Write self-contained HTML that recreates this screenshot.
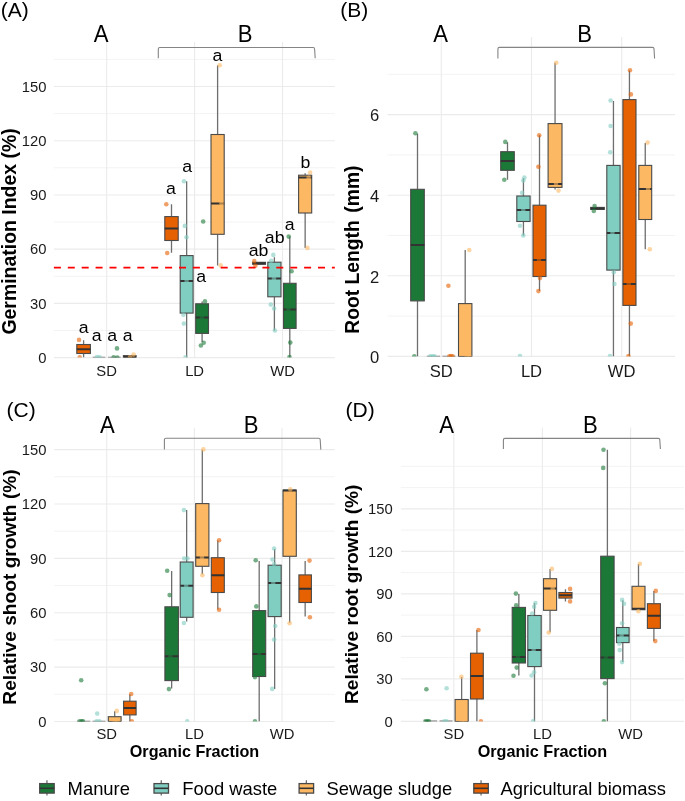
<!DOCTYPE html>
<html><head><meta charset="utf-8"><title>Figure</title>
<style>
html,body{margin:0;padding:0;background:#fff;}
body{width:685px;height:801px;overflow:hidden;}
svg{display:block;font-family:"Liberation Sans", sans-serif;will-change:transform;}
</style></head>
<body>
<svg width="685" height="801" viewBox="0 0 685 801">
<rect width="685" height="801" fill="#fff"/>
<clipPath id="clipA"><rect x="53.9" y="12" width="280.9" height="345.6"/></clipPath>
<line x1="53.9" x2="334.8" y1="330.49" y2="330.49" stroke="#f3f3f3" stroke-width="1"/>
<line x1="53.9" x2="334.8" y1="276.26" y2="276.26" stroke="#f3f3f3" stroke-width="1"/>
<line x1="53.9" x2="334.8" y1="222.04" y2="222.04" stroke="#f3f3f3" stroke-width="1"/>
<line x1="53.9" x2="334.8" y1="167.81" y2="167.81" stroke="#f3f3f3" stroke-width="1"/>
<line x1="53.9" x2="334.8" y1="113.59" y2="113.59" stroke="#f3f3f3" stroke-width="1"/>
<line x1="53.9" x2="334.8" y1="59.36" y2="59.36" stroke="#f3f3f3" stroke-width="1"/>
<line x1="53.9" x2="334.8" y1="357.6" y2="357.6" stroke="#ebebeb" stroke-width="1.1"/>
<line x1="53.9" x2="334.8" y1="303.38" y2="303.38" stroke="#ebebeb" stroke-width="1.1"/>
<line x1="53.9" x2="334.8" y1="249.15" y2="249.15" stroke="#ebebeb" stroke-width="1.1"/>
<line x1="53.9" x2="334.8" y1="194.93" y2="194.93" stroke="#ebebeb" stroke-width="1.1"/>
<line x1="53.9" x2="334.8" y1="140.7" y2="140.7" stroke="#ebebeb" stroke-width="1.1"/>
<line x1="53.9" x2="334.8" y1="86.48" y2="86.48" stroke="#ebebeb" stroke-width="1.1"/>
<line x1="106.65" x2="106.65" y1="42" y2="357.6" stroke="#ebebeb" stroke-width="1.1"/>
<line x1="194.6" x2="194.6" y1="42" y2="357.6" stroke="#ebebeb" stroke-width="1.1"/>
<line x1="282.5" x2="282.5" y1="42" y2="357.6" stroke="#ebebeb" stroke-width="1.1"/>
<g clip-path="url(#clipA)"><line x1="83.6" x2="83.6" y1="340.2" y2="344.5" stroke="#6e6e6e" stroke-width="1.3"/><line x1="83.6" x2="83.6" y1="353.5" y2="357.6" stroke="#6e6e6e" stroke-width="1.3"/><rect x="76.8" y="344.5" width="13.6" height="9" fill="#E66101" stroke="#4a4a4a" stroke-width="1.1"/><line x1="76.8" x2="90.4" y1="349.2" y2="349.2" stroke="#333" stroke-width="2"/><circle cx="79" cy="339.9" r="2.3" fill="#E66101" fill-opacity="0.6"/><circle cx="79.7" cy="357.4" r="2.3" fill="#E66101" fill-opacity="0.6"/></g>
<g clip-path="url(#clipA)"><line x1="92.7" x2="105.3" y1="357.4" y2="357.4" stroke="#737373" stroke-width="1.3"/><circle cx="97" cy="357" r="2.3" fill="#80CDC1" fill-opacity="0.6"/><circle cx="99.6" cy="357.4" r="2.3" fill="#80CDC1" fill-opacity="0.6"/></g>
<g clip-path="url(#clipA)"><line x1="108.1" x2="120.7" y1="357.4" y2="357.4" stroke="#737373" stroke-width="1.3"/><circle cx="117" cy="348.4" r="2.3" fill="#1B7837" fill-opacity="0.6"/><circle cx="113.6" cy="357.4" r="2.3" fill="#1B7837" fill-opacity="0.6"/><circle cx="117.2" cy="357.5" r="2.3" fill="#1B7837" fill-opacity="0.6"/></g>
<g clip-path="url(#clipA)"><rect x="123.4" y="355.6" width="12.7" height="2" fill="#FDB863" stroke="#4a4a4a" stroke-width="1.1"/><line x1="123.4" x2="136.1" y1="357.1" y2="357.1" stroke="#333" stroke-width="2"/><circle cx="133.6" cy="354.6" r="2.3" fill="#FDB863" fill-opacity="0.6"/><circle cx="130" cy="357.2" r="2.3" fill="#FDB863" fill-opacity="0.6"/></g>
<g clip-path="url(#clipA)"><line x1="171.5" x2="171.5" y1="204.3" y2="216.6" stroke="#6e6e6e" stroke-width="1.3"/><line x1="171.5" x2="171.5" y1="240.5" y2="252.7" stroke="#6e6e6e" stroke-width="1.3"/><rect x="164.8" y="216.6" width="13.4" height="23.9" fill="#E66101" stroke="#4a4a4a" stroke-width="1.1"/><line x1="164.8" x2="178.2" y1="228.5" y2="228.5" stroke="#333" stroke-width="2"/><circle cx="166.3" cy="204.3" r="2.3" fill="#E66101" fill-opacity="0.6"/><circle cx="167.2" cy="253" r="2.3" fill="#E66101" fill-opacity="0.6"/></g>
<g clip-path="url(#clipA)"><line x1="186.65" x2="186.65" y1="181.3" y2="255.6" stroke="#6e6e6e" stroke-width="1.3"/><line x1="186.65" x2="186.65" y1="313.1" y2="357.6" stroke="#6e6e6e" stroke-width="1.3"/><rect x="180.2" y="255.6" width="12.9" height="57.5" fill="#80CDC1" stroke="#4a4a4a" stroke-width="1.1"/><line x1="180.2" x2="193.1" y1="281.1" y2="281.1" stroke="#333" stroke-width="2"/><circle cx="184" cy="181.3" r="2.3" fill="#80CDC1" fill-opacity="0.6"/><circle cx="184.8" cy="225.9" r="2.3" fill="#80CDC1" fill-opacity="0.6"/><circle cx="186.5" cy="237.2" r="2.3" fill="#80CDC1" fill-opacity="0.6"/><circle cx="183.4" cy="314.7" r="2.3" fill="#80CDC1" fill-opacity="0.6"/><circle cx="183.9" cy="323.6" r="2.3" fill="#80CDC1" fill-opacity="0.6"/><circle cx="185.5" cy="357.4" r="2.3" fill="#80CDC1" fill-opacity="0.6"/></g>
<g clip-path="url(#clipA)"><line x1="202.1" x2="202.1" y1="301.6" y2="303.8" stroke="#6e6e6e" stroke-width="1.3"/><line x1="202.1" x2="202.1" y1="333.4" y2="342" stroke="#6e6e6e" stroke-width="1.3"/><rect x="195.7" y="303.8" width="12.8" height="29.6" fill="#1B7837" stroke="#4a4a4a" stroke-width="1.1"/><line x1="195.7" x2="208.5" y1="317.6" y2="317.6" stroke="#333" stroke-width="2"/><circle cx="205" cy="301.4" r="2.3" fill="#1B7837" fill-opacity="0.6"/><circle cx="203.7" cy="342.8" r="2.3" fill="#1B7837" fill-opacity="0.6"/><circle cx="200.9" cy="345.5" r="2.3" fill="#1B7837" fill-opacity="0.6"/><circle cx="203.2" cy="221.5" r="2.3" fill="#1B7837" fill-opacity="0.6"/></g>
<g clip-path="url(#clipA)"><line x1="217.6" x2="217.6" y1="65.3" y2="134.5" stroke="#6e6e6e" stroke-width="1.3"/><line x1="217.6" x2="217.6" y1="234.3" y2="265.4" stroke="#6e6e6e" stroke-width="1.3"/><rect x="211" y="134.5" width="13.2" height="99.8" fill="#FDB863" stroke="#4a4a4a" stroke-width="1.1"/><line x1="211" x2="224.2" y1="203.5" y2="203.5" stroke="#333" stroke-width="2"/><circle cx="219.7" cy="65.3" r="2.3" fill="#FDB863" fill-opacity="0.6"/><circle cx="220.7" cy="265.4" r="2.3" fill="#FDB863" fill-opacity="0.6"/><circle cx="221.5" cy="203.5" r="2.3" fill="#FDB863" fill-opacity="0.6"/></g>
<g clip-path="url(#clipA)"><rect x="252.7" y="262.3" width="12.8" height="2" fill="#E66101" stroke="#4a4a4a" stroke-width="1.1"/><line x1="252.7" x2="265.5" y1="263.3" y2="263.3" stroke="#333" stroke-width="2"/><circle cx="254.3" cy="261.1" r="2.3" fill="#E66101" fill-opacity="0.6"/><circle cx="255.4" cy="265.8" r="2.3" fill="#E66101" fill-opacity="0.6"/></g>
<g clip-path="url(#clipA)"><line x1="274.4" x2="274.4" y1="257.2" y2="262.2" stroke="#6e6e6e" stroke-width="1.3"/><line x1="274.4" x2="274.4" y1="296.8" y2="330.5" stroke="#6e6e6e" stroke-width="1.3"/><rect x="267.8" y="262.2" width="13.2" height="34.6" fill="#80CDC1" stroke="#4a4a4a" stroke-width="1.1"/><line x1="267.8" x2="281" y1="278.6" y2="278.6" stroke="#333" stroke-width="2"/><circle cx="273.3" cy="254.9" r="2.3" fill="#80CDC1" fill-opacity="0.6"/><circle cx="271.2" cy="260.8" r="2.3" fill="#80CDC1" fill-opacity="0.6"/><circle cx="270.8" cy="304.6" r="2.3" fill="#80CDC1" fill-opacity="0.6"/><circle cx="274.1" cy="308.5" r="2.3" fill="#80CDC1" fill-opacity="0.6"/><circle cx="274.9" cy="330.5" r="2.3" fill="#80CDC1" fill-opacity="0.6"/></g>
<g clip-path="url(#clipA)"><line x1="289.8" x2="289.8" y1="236.6" y2="283.3" stroke="#6e6e6e" stroke-width="1.3"/><line x1="289.8" x2="289.8" y1="328.4" y2="357.6" stroke="#6e6e6e" stroke-width="1.3"/><rect x="283.5" y="283.3" width="12.6" height="45.1" fill="#1B7837" stroke="#4a4a4a" stroke-width="1.1"/><line x1="283.5" x2="296.1" y1="309.5" y2="309.5" stroke="#333" stroke-width="2"/><circle cx="288.7" cy="236.6" r="2.3" fill="#1B7837" fill-opacity="0.6"/><circle cx="291.6" cy="271.2" r="2.3" fill="#1B7837" fill-opacity="0.6"/><circle cx="290.3" cy="342.6" r="2.3" fill="#1B7837" fill-opacity="0.6"/><circle cx="289.5" cy="357" r="2.3" fill="#1B7837" fill-opacity="0.6"/></g>
<g clip-path="url(#clipA)"><line x1="305.15" x2="305.15" y1="173.3" y2="175.2" stroke="#6e6e6e" stroke-width="1.3"/><line x1="305.15" x2="305.15" y1="213" y2="247.9" stroke="#6e6e6e" stroke-width="1.3"/><rect x="298.6" y="175.2" width="13.1" height="37.8" fill="#FDB863" stroke="#4a4a4a" stroke-width="1.1"/><line x1="298.6" x2="311.7" y1="177.6" y2="177.6" stroke="#333" stroke-width="2"/><circle cx="310.1" cy="172.5" r="2.3" fill="#FDB863" fill-opacity="0.6"/><circle cx="307.4" cy="247.9" r="2.3" fill="#FDB863" fill-opacity="0.6"/></g>
<g clip-path="url(#clipA)"><circle cx="186.6" cy="281.1" r="2.3" fill="#80CDC1" fill-opacity="0.6"/><circle cx="274" cy="278.6" r="2.3" fill="#80CDC1" fill-opacity="0.6"/></g>
<g clip-path="url(#clipA)"><circle cx="202" cy="317.6" r="2.3" fill="#1B7837" fill-opacity="0.6"/><circle cx="288.3" cy="309.5" r="2.3" fill="#1B7837" fill-opacity="0.6"/></g>
<g clip-path="url(#clipA)"><circle cx="308.6" cy="177.9" r="2.3" fill="#FDB863" fill-opacity="0.6"/></g>
<line x1="53.9" x2="334.8" y1="267.5" y2="267.5" stroke="#ff0000" stroke-width="1.75" stroke-dasharray="7 6.9"/>
<text transform="translate(83.6,332.9) scale(1.03,1)" font-size="17.2" text-anchor="middle" font-weight="normal" fill="#000">a</text>
<text transform="translate(96.75,340.6) scale(1.03,1)" font-size="17.2" text-anchor="middle" font-weight="normal" fill="#000">a</text>
<text transform="translate(112.1,340.6) scale(1.03,1)" font-size="17.2" text-anchor="middle" font-weight="normal" fill="#000">a</text>
<text transform="translate(127.6,340.6) scale(1.03,1)" font-size="17.2" text-anchor="middle" font-weight="normal" fill="#000">a</text>
<text transform="translate(171,193.8) scale(1.03,1)" font-size="17.2" text-anchor="middle" font-weight="normal" fill="#000">a</text>
<text transform="translate(187.1,172.2) scale(1.03,1)" font-size="17.2" text-anchor="middle" font-weight="normal" fill="#000">a</text>
<text transform="translate(201.2,281.6) scale(1.03,1)" font-size="17.2" text-anchor="middle" font-weight="normal" fill="#000">a</text>
<text transform="translate(217.3,60.9) scale(1.03,1)" font-size="17.2" text-anchor="middle" font-weight="normal" fill="#000">a</text>
<text transform="translate(258.5,255.5) scale(1.03,1)" font-size="17.2" text-anchor="middle" font-weight="normal" fill="#000">ab</text>
<text transform="translate(274.7,242.6) scale(1.03,1)" font-size="17.2" text-anchor="middle" font-weight="normal" fill="#000">ab</text>
<text transform="translate(289.7,230) scale(1.03,1)" font-size="17.2" text-anchor="middle" font-weight="normal" fill="#000">a</text>
<text transform="translate(305.5,167.6) scale(1.03,1)" font-size="17.2" text-anchor="middle" font-weight="normal" fill="#000">b</text>
<text transform="translate(101.2,42) scale(0.93,1)" font-size="23.8" text-anchor="middle" font-weight="normal" fill="#000">A</text>
<text transform="translate(245,42.2) scale(0.93,1)" font-size="23.8" text-anchor="middle" font-weight="normal" fill="#000">B</text>
<path d="M158.3 58.2 L158.3 49 Q158.3 47.5 159.8 47.5 L313.1 47.5 Q314.6 47.5 314.6 49 L315.2 58.2" fill="none" stroke="#858585" stroke-width="1.1"/>
<text x="46.4" y="362.9" font-size="14.8" text-anchor="end" font-weight="normal" fill="#1a1a1a">0</text>
<text x="46.4" y="308.68" font-size="14.8" text-anchor="end" font-weight="normal" fill="#1a1a1a">30</text>
<text x="46.4" y="254.45" font-size="14.8" text-anchor="end" font-weight="normal" fill="#1a1a1a">60</text>
<text x="46.4" y="200.23" font-size="14.8" text-anchor="end" font-weight="normal" fill="#1a1a1a">90</text>
<text x="46.4" y="146" font-size="14.8" text-anchor="end" font-weight="normal" fill="#1a1a1a">120</text>
<text x="46.4" y="91.78" font-size="14.8" text-anchor="end" font-weight="normal" fill="#1a1a1a">150</text>
<text x="106.65" y="376" font-size="14.8" text-anchor="middle" font-weight="normal" fill="#1a1a1a">SD</text>
<text x="194.6" y="376" font-size="14.8" text-anchor="middle" font-weight="normal" fill="#1a1a1a">LD</text>
<text x="282.5" y="376" font-size="14.8" text-anchor="middle" font-weight="normal" fill="#1a1a1a">WD</text>
<text transform="translate(16.2,231.45) rotate(-90)" font-size="19.44" text-anchor="middle" font-weight="bold" fill="#000">Germination Index (%)</text>
<text x="0.8" y="16.6" font-size="21" text-anchor="start" font-weight="normal" fill="#000">(A)</text>
<clipPath id="clipB"><rect x="387.6" y="7" width="287.4" height="349.5"/></clipPath>
<line x1="387.6" x2="675" y1="316.1" y2="316.1" stroke="#f3f3f3" stroke-width="1"/>
<line x1="387.6" x2="675" y1="235.5" y2="235.5" stroke="#f3f3f3" stroke-width="1"/>
<line x1="387.6" x2="675" y1="154.9" y2="154.9" stroke="#f3f3f3" stroke-width="1"/>
<line x1="387.6" x2="675" y1="74.3" y2="74.3" stroke="#f3f3f3" stroke-width="1"/>
<line x1="387.6" x2="675" y1="356.4" y2="356.4" stroke="#ebebeb" stroke-width="1.1"/>
<line x1="387.6" x2="675" y1="275.8" y2="275.8" stroke="#ebebeb" stroke-width="1.1"/>
<line x1="387.6" x2="675" y1="195.2" y2="195.2" stroke="#ebebeb" stroke-width="1.1"/>
<line x1="387.6" x2="675" y1="114.6" y2="114.6" stroke="#ebebeb" stroke-width="1.1"/>
<line x1="441.3" x2="441.3" y1="37" y2="356.5" stroke="#ebebeb" stroke-width="1.1"/>
<line x1="531.5" x2="531.5" y1="37" y2="356.5" stroke="#ebebeb" stroke-width="1.1"/>
<line x1="621.7" x2="621.7" y1="37" y2="356.5" stroke="#ebebeb" stroke-width="1.1"/>
<g clip-path="url(#clipB)"><line x1="417.5" x2="417.5" y1="133.8" y2="189.3" stroke="#6e6e6e" stroke-width="1.3"/><line x1="417.5" x2="417.5" y1="300.9" y2="356.5" stroke="#6e6e6e" stroke-width="1.3"/><rect x="410.7" y="189.3" width="13.6" height="111.6" fill="#1B7837" stroke="#4a4a4a" stroke-width="1.1"/><line x1="410.7" x2="424.3" y1="245.1" y2="245.1" stroke="#333" stroke-width="2"/><circle cx="415.4" cy="133.3" r="2.3" fill="#1B7837" fill-opacity="0.6"/><circle cx="414.3" cy="356.2" r="2.3" fill="#1B7837" fill-opacity="0.6"/></g>
<g clip-path="url(#clipB)"><line x1="426.8" x2="440.1" y1="356.3" y2="356.3" stroke="#737373" stroke-width="1.3"/><circle cx="430.2" cy="356.2" r="2.3" fill="#80CDC1" fill-opacity="0.6"/><circle cx="432.6" cy="356.3" r="2.3" fill="#80CDC1" fill-opacity="0.6"/><circle cx="434.4" cy="356.4" r="2.3" fill="#80CDC1" fill-opacity="0.6"/></g>
<g clip-path="url(#clipB)"><line x1="442.4" x2="455.5" y1="356.3" y2="356.3" stroke="#737373" stroke-width="1.3"/><circle cx="448.4" cy="285.8" r="2.3" fill="#E66101" fill-opacity="0.6"/><circle cx="449.3" cy="356.2" r="2.3" fill="#E66101" fill-opacity="0.6"/><circle cx="451" cy="356.1" r="2.3" fill="#E66101" fill-opacity="0.6"/><circle cx="452.7" cy="356.4" r="2.3" fill="#E66101" fill-opacity="0.6"/></g>
<g clip-path="url(#clipB)"><line x1="465.2" x2="465.2" y1="250" y2="303.6" stroke="#6e6e6e" stroke-width="1.3"/><rect x="458.5" y="303.6" width="13.4" height="52.9" fill="#FDB863" stroke="#4a4a4a" stroke-width="1.1"/><line x1="458.5" x2="471.9" y1="357.2" y2="357.2" stroke="#333" stroke-width="2"/><circle cx="469.3" cy="250" r="2.3" fill="#FDB863" fill-opacity="0.6"/><circle cx="466.8" cy="356.6" r="2.3" fill="#FDB863" fill-opacity="0.6"/><circle cx="469.6" cy="356.7" r="2.3" fill="#FDB863" fill-opacity="0.6"/></g>
<g clip-path="url(#clipB)"><line x1="507.5" x2="507.5" y1="142.2" y2="151.7" stroke="#6e6e6e" stroke-width="1.3"/><line x1="507.5" x2="507.5" y1="170.3" y2="179.8" stroke="#6e6e6e" stroke-width="1.3"/><rect x="500.7" y="151.7" width="13.6" height="18.6" fill="#1B7837" stroke="#4a4a4a" stroke-width="1.1"/><line x1="500.7" x2="514.3" y1="161" y2="161" stroke="#333" stroke-width="2"/><circle cx="505.3" cy="141.9" r="2.3" fill="#1B7837" fill-opacity="0.6"/><circle cx="504.3" cy="179.8" r="2.3" fill="#1B7837" fill-opacity="0.6"/></g>
<g clip-path="url(#clipB)"><line x1="523.45" x2="523.45" y1="178.1" y2="196" stroke="#6e6e6e" stroke-width="1.3"/><line x1="523.45" x2="523.45" y1="221.5" y2="235.4" stroke="#6e6e6e" stroke-width="1.3"/><rect x="516.8" y="196" width="13.3" height="25.5" fill="#80CDC1" stroke="#4a4a4a" stroke-width="1.1"/><line x1="516.8" x2="530.1" y1="210.1" y2="210.1" stroke="#333" stroke-width="2"/><circle cx="524.4" cy="177.6" r="2.3" fill="#80CDC1" fill-opacity="0.6"/><circle cx="523.3" cy="180.6" r="2.3" fill="#80CDC1" fill-opacity="0.6"/><circle cx="522.1" cy="192.7" r="2.3" fill="#80CDC1" fill-opacity="0.6"/><circle cx="520" cy="225.7" r="2.3" fill="#80CDC1" fill-opacity="0.6"/><circle cx="523.3" cy="235.4" r="2.3" fill="#80CDC1" fill-opacity="0.6"/><circle cx="520" cy="356" r="2.3" fill="#80CDC1" fill-opacity="0.6"/></g>
<g clip-path="url(#clipB)"><line x1="539.5" x2="539.5" y1="135.3" y2="205.2" stroke="#6e6e6e" stroke-width="1.3"/><line x1="539.5" x2="539.5" y1="276.5" y2="291.1" stroke="#6e6e6e" stroke-width="1.3"/><rect x="533" y="205.2" width="13" height="71.3" fill="#E66101" stroke="#4a4a4a" stroke-width="1.1"/><line x1="533" x2="546" y1="260.05" y2="260.05" stroke="#333" stroke-width="2"/><circle cx="539.2" cy="135.3" r="2.3" fill="#E66101" fill-opacity="0.6"/><circle cx="538.4" cy="166.8" r="2.3" fill="#E66101" fill-opacity="0.6"/><circle cx="540" cy="278.1" r="2.3" fill="#E66101" fill-opacity="0.6"/><circle cx="538.4" cy="291.1" r="2.3" fill="#E66101" fill-opacity="0.6"/></g>
<g clip-path="url(#clipB)"><line x1="555.05" x2="555.05" y1="62.7" y2="123.6" stroke="#6e6e6e" stroke-width="1.3"/><line x1="555.05" x2="555.05" y1="187.4" y2="189.5" stroke="#6e6e6e" stroke-width="1.3"/><rect x="548.1" y="123.6" width="13.9" height="63.8" fill="#FDB863" stroke="#4a4a4a" stroke-width="1.1"/><line x1="548.1" x2="562" y1="184.1" y2="184.1" stroke="#333" stroke-width="2"/><circle cx="556.3" cy="62.7" r="2.3" fill="#FDB863" fill-opacity="0.6"/><circle cx="558.5" cy="190.6" r="2.3" fill="#FDB863" fill-opacity="0.6"/></g>
<g clip-path="url(#clipB)"><rect x="590.7" y="207.4" width="13.6" height="2" fill="#1B7837" stroke="#4a4a4a" stroke-width="1.1"/><line x1="590.7" x2="604.3" y1="208.4" y2="208.4" stroke="#333" stroke-width="2"/><circle cx="594.6" cy="206" r="2.3" fill="#1B7837" fill-opacity="0.6"/><circle cx="593.8" cy="210.9" r="2.3" fill="#1B7837" fill-opacity="0.6"/></g>
<g clip-path="url(#clipB)"><line x1="613.45" x2="613.45" y1="100.9" y2="165.4" stroke="#6e6e6e" stroke-width="1.3"/><line x1="613.45" x2="613.45" y1="270.1" y2="356.5" stroke="#6e6e6e" stroke-width="1.3"/><rect x="606.8" y="165.4" width="13.3" height="104.7" fill="#80CDC1" stroke="#4a4a4a" stroke-width="1.1"/><line x1="606.8" x2="620.1" y1="233.1" y2="233.1" stroke="#333" stroke-width="2"/><circle cx="610.6" cy="100.5" r="2.3" fill="#80CDC1" fill-opacity="0.6"/><circle cx="610.6" cy="126" r="2.3" fill="#80CDC1" fill-opacity="0.6"/><circle cx="610.2" cy="152.3" r="2.3" fill="#80CDC1" fill-opacity="0.6"/><circle cx="613.8" cy="272.2" r="2.3" fill="#80CDC1" fill-opacity="0.6"/><circle cx="614.4" cy="283.9" r="2.3" fill="#80CDC1" fill-opacity="0.6"/><circle cx="610" cy="356.1" r="2.3" fill="#80CDC1" fill-opacity="0.6"/></g>
<g clip-path="url(#clipB)"><line x1="629.45" x2="629.45" y1="70.5" y2="99.6" stroke="#6e6e6e" stroke-width="1.3"/><line x1="629.45" x2="629.45" y1="305.4" y2="356.5" stroke="#6e6e6e" stroke-width="1.3"/><rect x="622.9" y="99.6" width="13.1" height="205.8" fill="#E66101" stroke="#4a4a4a" stroke-width="1.1"/><line x1="622.9" x2="636" y1="284" y2="284" stroke="#333" stroke-width="2"/><circle cx="630" cy="70.3" r="2.3" fill="#E66101" fill-opacity="0.6"/><circle cx="630.9" cy="94.4" r="2.3" fill="#E66101" fill-opacity="0.6"/><circle cx="630.8" cy="323.6" r="2.3" fill="#E66101" fill-opacity="0.6"/><circle cx="628.4" cy="356.1" r="2.3" fill="#E66101" fill-opacity="0.6"/></g>
<g clip-path="url(#clipB)"><line x1="645.25" x2="645.25" y1="143" y2="165.4" stroke="#6e6e6e" stroke-width="1.3"/><line x1="645.25" x2="645.25" y1="219.5" y2="249.3" stroke="#6e6e6e" stroke-width="1.3"/><rect x="638.8" y="165.4" width="12.9" height="54.1" fill="#FDB863" stroke="#4a4a4a" stroke-width="1.1"/><line x1="638.8" x2="651.7" y1="189" y2="189" stroke="#333" stroke-width="2"/><circle cx="647.6" cy="142.6" r="2.3" fill="#FDB863" fill-opacity="0.6"/><circle cx="649.8" cy="249.3" r="2.3" fill="#FDB863" fill-opacity="0.6"/></g>
<g clip-path="url(#clipB)"><circle cx="523.3" cy="210.1" r="2.3" fill="#80CDC1" fill-opacity="0.6"/><circle cx="612.5" cy="233.1" r="2.3" fill="#80CDC1" fill-opacity="0.6"/></g>
<g clip-path="url(#clipB)"><circle cx="539" cy="260" r="2.3" fill="#E66101" fill-opacity="0.6"/><circle cx="628.7" cy="284" r="2.3" fill="#E66101" fill-opacity="0.6"/></g>
<g clip-path="url(#clipB)"><circle cx="556" cy="184.1" r="2.3" fill="#FDB863" fill-opacity="0.6"/><circle cx="648" cy="189" r="2.3" fill="#FDB863" fill-opacity="0.6"/></g>
<text transform="translate(440.7,41.9) scale(0.93,1)" font-size="23.8" text-anchor="middle" font-weight="normal" fill="#000">A</text>
<text transform="translate(584.6,42) scale(0.93,1)" font-size="23.8" text-anchor="middle" font-weight="normal" fill="#000">B</text>
<path d="M497.9 58.5 L497.9 48.9 Q497.9 47.4 499.4 47.4 L652.5 47.4 Q654 47.4 654 48.9 L654.6 58.5" fill="none" stroke="#858585" stroke-width="1.1"/>
<text x="379.2" y="363.1" font-size="16.6" text-anchor="end" font-weight="normal" fill="#1a1a1a">0</text>
<text x="379.2" y="282.5" font-size="16.6" text-anchor="end" font-weight="normal" fill="#1a1a1a">2</text>
<text x="379.2" y="201.9" font-size="16.6" text-anchor="end" font-weight="normal" fill="#1a1a1a">4</text>
<text x="379.2" y="121.3" font-size="16.6" text-anchor="end" font-weight="normal" fill="#1a1a1a">6</text>
<text x="441.3" y="377" font-size="16.6" text-anchor="middle" font-weight="normal" fill="#1a1a1a">SD</text>
<text x="531.5" y="377" font-size="16.6" text-anchor="middle" font-weight="normal" fill="#1a1a1a">LD</text>
<text x="621.7" y="377" font-size="16.6" text-anchor="middle" font-weight="normal" fill="#1a1a1a">WD</text>
<text transform="translate(359.1,249.6) rotate(-90)" font-size="19.3" text-anchor="middle" font-weight="bold" fill="#000">Root Length<tspan dx="2.2"> (mm)</tspan></text>
<text x="340.3" y="16.6" font-size="21" text-anchor="start" font-weight="normal" fill="#000">(B)</text>
<clipPath id="clipC"><rect x="54.3" y="397.7" width="280.4" height="323.8"/></clipPath>
<line x1="54.3" x2="334.7" y1="694.31" y2="694.31" stroke="#f3f3f3" stroke-width="1"/>
<line x1="54.3" x2="334.7" y1="639.93" y2="639.93" stroke="#f3f3f3" stroke-width="1"/>
<line x1="54.3" x2="334.7" y1="585.55" y2="585.55" stroke="#f3f3f3" stroke-width="1"/>
<line x1="54.3" x2="334.7" y1="531.17" y2="531.17" stroke="#f3f3f3" stroke-width="1"/>
<line x1="54.3" x2="334.7" y1="476.79" y2="476.79" stroke="#f3f3f3" stroke-width="1"/>
<line x1="54.3" x2="334.7" y1="721.5" y2="721.5" stroke="#ebebeb" stroke-width="1.1"/>
<line x1="54.3" x2="334.7" y1="667.12" y2="667.12" stroke="#ebebeb" stroke-width="1.1"/>
<line x1="54.3" x2="334.7" y1="612.74" y2="612.74" stroke="#ebebeb" stroke-width="1.1"/>
<line x1="54.3" x2="334.7" y1="558.36" y2="558.36" stroke="#ebebeb" stroke-width="1.1"/>
<line x1="54.3" x2="334.7" y1="503.98" y2="503.98" stroke="#ebebeb" stroke-width="1.1"/>
<line x1="54.3" x2="334.7" y1="449.6" y2="449.6" stroke="#ebebeb" stroke-width="1.1"/>
<line x1="106.7" x2="106.7" y1="427.7" y2="721.5" stroke="#ebebeb" stroke-width="1.1"/>
<line x1="194.4" x2="194.4" y1="427.7" y2="721.5" stroke="#ebebeb" stroke-width="1.1"/>
<line x1="282" x2="282" y1="427.7" y2="721.5" stroke="#ebebeb" stroke-width="1.1"/>
<g clip-path="url(#clipC)"><line x1="77.1" x2="90.3" y1="721.3" y2="721.3" stroke="#737373" stroke-width="1.3"/><circle cx="81.2" cy="680.2" r="2.3" fill="#1B7837" fill-opacity="0.6"/><circle cx="79.6" cy="721.2" r="2.3" fill="#1B7837" fill-opacity="0.6"/><circle cx="81.6" cy="721.3" r="2.3" fill="#1B7837" fill-opacity="0.6"/><circle cx="83" cy="721.4" r="2.3" fill="#1B7837" fill-opacity="0.6"/></g>
<g clip-path="url(#clipC)"><line x1="92.5" x2="105.5" y1="721.3" y2="721.3" stroke="#737373" stroke-width="1.3"/><circle cx="97.2" cy="713.6" r="2.3" fill="#80CDC1" fill-opacity="0.6"/><circle cx="96.6" cy="721.3" r="2.3" fill="#80CDC1" fill-opacity="0.6"/><circle cx="99.4" cy="721.4" r="2.3" fill="#80CDC1" fill-opacity="0.6"/></g>
<g clip-path="url(#clipC)"><line x1="114.7" x2="114.7" y1="711.2" y2="716.7" stroke="#6e6e6e" stroke-width="1.3"/><rect x="108.3" y="716.7" width="12.8" height="4.8" fill="#FDB863" stroke="#4a4a4a" stroke-width="1.1"/><line x1="108.3" x2="121.1" y1="722.2" y2="722.2" stroke="#333" stroke-width="2"/><circle cx="116.8" cy="710.9" r="2.3" fill="#FDB863" fill-opacity="0.6"/><circle cx="114.5" cy="721.6" r="2.3" fill="#FDB863" fill-opacity="0.6"/><circle cx="117.2" cy="721.7" r="2.3" fill="#FDB863" fill-opacity="0.6"/></g>
<g clip-path="url(#clipC)"><line x1="129.85" x2="129.85" y1="694.3" y2="701.2" stroke="#6e6e6e" stroke-width="1.3"/><line x1="129.85" x2="129.85" y1="714.9" y2="721.5" stroke="#6e6e6e" stroke-width="1.3"/><rect x="123.6" y="701.2" width="12.5" height="13.7" fill="#E66101" stroke="#4a4a4a" stroke-width="1.1"/><line x1="123.6" x2="136.1" y1="708.1" y2="708.1" stroke="#333" stroke-width="2"/><circle cx="131.2" cy="694" r="2.3" fill="#E66101" fill-opacity="0.6"/><circle cx="131.8" cy="721.3" r="2.3" fill="#E66101" fill-opacity="0.6"/></g>
<g clip-path="url(#clipC)"><line x1="171.65" x2="171.65" y1="571.1" y2="606.8" stroke="#6e6e6e" stroke-width="1.3"/><line x1="171.65" x2="171.65" y1="680.6" y2="688.6" stroke="#6e6e6e" stroke-width="1.3"/><rect x="164.9" y="606.8" width="13.5" height="73.8" fill="#1B7837" stroke="#4a4a4a" stroke-width="1.1"/><line x1="164.9" x2="178.4" y1="656.3" y2="656.3" stroke="#333" stroke-width="2"/><circle cx="167.2" cy="570.8" r="2.3" fill="#1B7837" fill-opacity="0.6"/><circle cx="169.6" cy="595.1" r="2.3" fill="#1B7837" fill-opacity="0.6"/><circle cx="168.9" cy="689.1" r="2.3" fill="#1B7837" fill-opacity="0.6"/></g>
<g clip-path="url(#clipC)"><line x1="186.65" x2="186.65" y1="510.1" y2="562" stroke="#6e6e6e" stroke-width="1.3"/><line x1="186.65" x2="186.65" y1="617.3" y2="621.4" stroke="#6e6e6e" stroke-width="1.3"/><rect x="180.2" y="562" width="12.9" height="55.3" fill="#80CDC1" stroke="#4a4a4a" stroke-width="1.1"/><line x1="180.2" x2="193.1" y1="585.7" y2="585.7" stroke="#333" stroke-width="2"/><circle cx="183.9" cy="510.1" r="2.3" fill="#80CDC1" fill-opacity="0.6"/><circle cx="184.2" cy="558.5" r="2.3" fill="#80CDC1" fill-opacity="0.6"/><circle cx="187.5" cy="558.5" r="2.3" fill="#80CDC1" fill-opacity="0.6"/><circle cx="183.9" cy="623" r="2.3" fill="#80CDC1" fill-opacity="0.6"/><circle cx="187.2" cy="721.3" r="2.3" fill="#80CDC1" fill-opacity="0.6"/></g>
<g clip-path="url(#clipC)"><line x1="202.3" x2="202.3" y1="449.7" y2="503.6" stroke="#6e6e6e" stroke-width="1.3"/><line x1="202.3" x2="202.3" y1="566.3" y2="574.3" stroke="#6e6e6e" stroke-width="1.3"/><rect x="195.7" y="503.6" width="13.2" height="62.7" fill="#FDB863" stroke="#4a4a4a" stroke-width="1.1"/><line x1="195.7" x2="208.9" y1="557.4" y2="557.4" stroke="#333" stroke-width="2"/><circle cx="203.4" cy="449.4" r="2.3" fill="#FDB863" fill-opacity="0.6"/><circle cx="202.4" cy="575.2" r="2.3" fill="#FDB863" fill-opacity="0.6"/></g>
<g clip-path="url(#clipC)"><line x1="217.8" x2="217.8" y1="540.6" y2="557.7" stroke="#6e6e6e" stroke-width="1.3"/><line x1="217.8" x2="217.8" y1="592.5" y2="609.6" stroke="#6e6e6e" stroke-width="1.3"/><rect x="211.3" y="557.7" width="13" height="34.8" fill="#E66101" stroke="#4a4a4a" stroke-width="1.1"/><line x1="211.3" x2="224.3" y1="575.2" y2="575.2" stroke="#333" stroke-width="2"/><circle cx="219.1" cy="540.3" r="2.3" fill="#E66101" fill-opacity="0.6"/><circle cx="219.1" cy="609.7" r="2.3" fill="#E66101" fill-opacity="0.6"/></g>
<g clip-path="url(#clipC)"><line x1="259.2" x2="259.2" y1="561.1" y2="610.6" stroke="#6e6e6e" stroke-width="1.3"/><line x1="259.2" x2="259.2" y1="676.5" y2="721.5" stroke="#6e6e6e" stroke-width="1.3"/><rect x="252.7" y="610.6" width="13" height="65.9" fill="#1B7837" stroke="#4a4a4a" stroke-width="1.1"/><line x1="252.7" x2="265.7" y1="654" y2="654" stroke="#333" stroke-width="2"/><circle cx="255.7" cy="560.3" r="2.3" fill="#1B7837" fill-opacity="0.6"/><circle cx="256.3" cy="606.4" r="2.3" fill="#1B7837" fill-opacity="0.6"/><circle cx="255" cy="677.1" r="2.3" fill="#1B7837" fill-opacity="0.6"/><circle cx="255" cy="721.2" r="2.3" fill="#1B7837" fill-opacity="0.6"/></g>
<g clip-path="url(#clipC)"><line x1="274.65" x2="274.65" y1="549" y2="565.2" stroke="#6e6e6e" stroke-width="1.3"/><line x1="274.65" x2="274.65" y1="616.6" y2="688.9" stroke="#6e6e6e" stroke-width="1.3"/><rect x="268.1" y="565.2" width="13.1" height="51.4" fill="#80CDC1" stroke="#4a4a4a" stroke-width="1.1"/><line x1="268.1" x2="281.2" y1="583" y2="583" stroke="#333" stroke-width="2"/><circle cx="274.1" cy="548.5" r="2.3" fill="#80CDC1" fill-opacity="0.6"/><circle cx="272.5" cy="559.5" r="2.3" fill="#80CDC1" fill-opacity="0.6"/><circle cx="274.1" cy="564" r="2.3" fill="#80CDC1" fill-opacity="0.6"/><circle cx="275.2" cy="626" r="2.3" fill="#80CDC1" fill-opacity="0.6"/><circle cx="274.1" cy="639.6" r="2.3" fill="#80CDC1" fill-opacity="0.6"/><circle cx="272.2" cy="688.9" r="2.3" fill="#80CDC1" fill-opacity="0.6"/></g>
<g clip-path="url(#clipC)"><line x1="289.65" x2="289.65" y1="556.3" y2="622.8" stroke="#6e6e6e" stroke-width="1.3"/><rect x="283" y="490.1" width="13.3" height="66.2" fill="#FDB863" stroke="#4a4a4a" stroke-width="1.1"/><line x1="283" x2="296.3" y1="490.4" y2="490.4" stroke="#333" stroke-width="2"/><circle cx="290.3" cy="489.4" r="2.3" fill="#FDB863" fill-opacity="0.6"/><circle cx="289.6" cy="623.3" r="2.3" fill="#FDB863" fill-opacity="0.6"/></g>
<g clip-path="url(#clipC)"><line x1="305.15" x2="305.15" y1="561.1" y2="574.9" stroke="#6e6e6e" stroke-width="1.3"/><line x1="305.15" x2="305.15" y1="602.5" y2="616.6" stroke="#6e6e6e" stroke-width="1.3"/><rect x="298.9" y="574.9" width="12.5" height="27.6" fill="#E66101" stroke="#4a4a4a" stroke-width="1.1"/><line x1="298.9" x2="311.4" y1="588.7" y2="588.7" stroke="#333" stroke-width="2"/><circle cx="309.5" cy="560.6" r="2.3" fill="#E66101" fill-opacity="0.6"/><circle cx="309.9" cy="617.2" r="2.3" fill="#E66101" fill-opacity="0.6"/></g>
<g clip-path="url(#clipC)"><circle cx="186.2" cy="585.7" r="2.3" fill="#80CDC1" fill-opacity="0.6"/><circle cx="273.3" cy="583" r="2.3" fill="#80CDC1" fill-opacity="0.6"/></g>
<g clip-path="url(#clipC)"><circle cx="170.4" cy="656.3" r="2.3" fill="#1B7837" fill-opacity="0.6"/><circle cx="259.2" cy="654" r="2.3" fill="#1B7837" fill-opacity="0.6"/></g>
<g clip-path="url(#clipC)"><circle cx="202" cy="557.4" r="2.3" fill="#FDB863" fill-opacity="0.6"/></g>
<text transform="translate(107.45,433.2) scale(0.93,1)" font-size="23.8" text-anchor="middle" font-weight="normal" fill="#000">A</text>
<text transform="translate(251,433.3) scale(0.93,1)" font-size="23.8" text-anchor="middle" font-weight="normal" fill="#000">B</text>
<path d="M164.4 449.6 L164.4 439.8 Q164.4 438.3 165.9 438.3 L318.7 438.3 Q320.2 438.3 320.2 439.8 L320.8 449.6" fill="none" stroke="#858585" stroke-width="1.1"/>
<text x="46.5" y="726.8" font-size="14.8" text-anchor="end" font-weight="normal" fill="#1a1a1a">0</text>
<text x="46.5" y="672.42" font-size="14.8" text-anchor="end" font-weight="normal" fill="#1a1a1a">30</text>
<text x="46.5" y="618.04" font-size="14.8" text-anchor="end" font-weight="normal" fill="#1a1a1a">60</text>
<text x="46.5" y="563.66" font-size="14.8" text-anchor="end" font-weight="normal" fill="#1a1a1a">90</text>
<text x="46.5" y="509.28" font-size="14.8" text-anchor="end" font-weight="normal" fill="#1a1a1a">120</text>
<text x="46.5" y="454.9" font-size="14.8" text-anchor="end" font-weight="normal" fill="#1a1a1a">150</text>
<text x="106.7" y="738.7" font-size="14.8" text-anchor="middle" font-weight="normal" fill="#1a1a1a">SD</text>
<text x="194.4" y="738.7" font-size="14.8" text-anchor="middle" font-weight="normal" fill="#1a1a1a">LD</text>
<text x="282" y="738.7" font-size="14.8" text-anchor="middle" font-weight="normal" fill="#1a1a1a">WD</text>
<text transform="translate(16.4,587) rotate(-90)" font-size="19.18" text-anchor="middle" font-weight="bold" fill="#000">Relative shoot growth (%)</text>
<text x="194.5" y="756.8" font-size="16.2" text-anchor="middle" font-weight="bold" fill="#000">Organic Fraction</text>
<text x="6.5" y="416.8" font-size="21" text-anchor="start" font-weight="normal" fill="#000">(C)</text>
<clipPath id="clipD"><rect x="400.9" y="397.5" width="283.1" height="324"/></clipPath>
<line x1="400.9" x2="684" y1="700.14" y2="700.14" stroke="#f3f3f3" stroke-width="1"/>
<line x1="400.9" x2="684" y1="657.63" y2="657.63" stroke="#f3f3f3" stroke-width="1"/>
<line x1="400.9" x2="684" y1="615.12" y2="615.12" stroke="#f3f3f3" stroke-width="1"/>
<line x1="400.9" x2="684" y1="572.62" y2="572.62" stroke="#f3f3f3" stroke-width="1"/>
<line x1="400.9" x2="684" y1="530.11" y2="530.11" stroke="#f3f3f3" stroke-width="1"/>
<line x1="400.9" x2="684" y1="487.59" y2="487.59" stroke="#f3f3f3" stroke-width="1"/>
<line x1="400.9" x2="684" y1="466.34" y2="466.34" stroke="#f3f3f3" stroke-width="1"/>
<line x1="400.9" x2="684" y1="721.4" y2="721.4" stroke="#ebebeb" stroke-width="1.1"/>
<line x1="400.9" x2="684" y1="678.89" y2="678.89" stroke="#ebebeb" stroke-width="1.1"/>
<line x1="400.9" x2="684" y1="636.38" y2="636.38" stroke="#ebebeb" stroke-width="1.1"/>
<line x1="400.9" x2="684" y1="593.87" y2="593.87" stroke="#ebebeb" stroke-width="1.1"/>
<line x1="400.9" x2="684" y1="551.36" y2="551.36" stroke="#ebebeb" stroke-width="1.1"/>
<line x1="400.9" x2="684" y1="508.85" y2="508.85" stroke="#ebebeb" stroke-width="1.1"/>
<line x1="453.8" x2="453.8" y1="427.5" y2="721.5" stroke="#ebebeb" stroke-width="1.1"/>
<line x1="542.4" x2="542.4" y1="427.5" y2="721.5" stroke="#ebebeb" stroke-width="1.1"/>
<line x1="630.6" x2="630.6" y1="427.5" y2="721.5" stroke="#ebebeb" stroke-width="1.1"/>
<g clip-path="url(#clipD)"><line x1="423.9" x2="437.1" y1="721.2" y2="721.2" stroke="#737373" stroke-width="1.3"/><circle cx="426.4" cy="689.2" r="2.3" fill="#1B7837" fill-opacity="0.6"/><circle cx="425.4" cy="721.2" r="2.3" fill="#1B7837" fill-opacity="0.6"/><circle cx="427.3" cy="721.3" r="2.3" fill="#1B7837" fill-opacity="0.6"/><circle cx="429" cy="721.4" r="2.3" fill="#1B7837" fill-opacity="0.6"/></g>
<g clip-path="url(#clipD)"><line x1="439.5" x2="452.5" y1="721.2" y2="721.2" stroke="#737373" stroke-width="1.3"/><circle cx="446.6" cy="688.3" r="2.3" fill="#80CDC1" fill-opacity="0.6"/><circle cx="444.3" cy="721.3" r="2.3" fill="#80CDC1" fill-opacity="0.6"/><circle cx="446.6" cy="721.4" r="2.3" fill="#80CDC1" fill-opacity="0.6"/></g>
<g clip-path="url(#clipD)"><line x1="461.65" x2="461.65" y1="677.1" y2="699.5" stroke="#6e6e6e" stroke-width="1.3"/><rect x="455.1" y="699.5" width="13.1" height="22" fill="#FDB863" stroke="#4a4a4a" stroke-width="1.1"/><line x1="455.1" x2="468.2" y1="722.2" y2="722.2" stroke="#333" stroke-width="2"/><circle cx="461.4" cy="676.7" r="2.3" fill="#FDB863" fill-opacity="0.6"/><circle cx="461.8" cy="721.5" r="2.3" fill="#FDB863" fill-opacity="0.6"/><circle cx="464.8" cy="721.6" r="2.3" fill="#FDB863" fill-opacity="0.6"/></g>
<g clip-path="url(#clipD)"><line x1="476.9" x2="476.9" y1="630" y2="653.2" stroke="#6e6e6e" stroke-width="1.3"/><line x1="476.9" x2="476.9" y1="699" y2="721.5" stroke="#6e6e6e" stroke-width="1.3"/><rect x="470.5" y="653.2" width="12.8" height="45.8" fill="#E66101" stroke="#4a4a4a" stroke-width="1.1"/><line x1="470.5" x2="483.3" y1="676.1" y2="676.1" stroke="#333" stroke-width="2"/><circle cx="478.5" cy="630" r="2.3" fill="#E66101" fill-opacity="0.6"/><circle cx="480.9" cy="721.4" r="2.3" fill="#E66101" fill-opacity="0.6"/></g>
<g clip-path="url(#clipD)"><line x1="518.85" x2="518.85" y1="594.1" y2="607.4" stroke="#6e6e6e" stroke-width="1.3"/><line x1="518.85" x2="518.85" y1="663" y2="675.5" stroke="#6e6e6e" stroke-width="1.3"/><rect x="512.2" y="607.4" width="13.3" height="55.6" fill="#1B7837" stroke="#4a4a4a" stroke-width="1.1"/><line x1="512.2" x2="525.5" y1="656.9" y2="656.9" stroke="#333" stroke-width="2"/><circle cx="515.9" cy="593.6" r="2.3" fill="#1B7837" fill-opacity="0.6"/><circle cx="516.2" cy="605.4" r="2.3" fill="#1B7837" fill-opacity="0.6"/><circle cx="516.7" cy="667.6" r="2.3" fill="#1B7837" fill-opacity="0.6"/><circle cx="513.5" cy="675.7" r="2.3" fill="#1B7837" fill-opacity="0.6"/></g>
<g clip-path="url(#clipD)"><line x1="534.5" x2="534.5" y1="603" y2="615.5" stroke="#6e6e6e" stroke-width="1.3"/><line x1="534.5" x2="534.5" y1="666.6" y2="721.5" stroke="#6e6e6e" stroke-width="1.3"/><rect x="527.8" y="615.5" width="13.4" height="51.1" fill="#80CDC1" stroke="#4a4a4a" stroke-width="1.1"/><line x1="527.8" x2="541.2" y1="650.1" y2="650.1" stroke="#333" stroke-width="2"/><circle cx="535.4" cy="603" r="2.3" fill="#80CDC1" fill-opacity="0.6"/><circle cx="534.1" cy="606.7" r="2.3" fill="#80CDC1" fill-opacity="0.6"/><circle cx="532.1" cy="613.5" r="2.3" fill="#80CDC1" fill-opacity="0.6"/><circle cx="534.1" cy="672.3" r="2.3" fill="#80CDC1" fill-opacity="0.6"/><circle cx="531.6" cy="675.5" r="2.3" fill="#80CDC1" fill-opacity="0.6"/><circle cx="533" cy="721.4" r="2.3" fill="#80CDC1" fill-opacity="0.6"/></g>
<g clip-path="url(#clipD)"><line x1="550.05" x2="550.05" y1="568.9" y2="578.7" stroke="#6e6e6e" stroke-width="1.3"/><line x1="550.05" x2="550.05" y1="610.3" y2="632.2" stroke="#6e6e6e" stroke-width="1.3"/><rect x="543.5" y="578.7" width="13.1" height="31.6" fill="#FDB863" stroke="#4a4a4a" stroke-width="1.1"/><line x1="543.5" x2="556.6" y1="588.4" y2="588.4" stroke="#333" stroke-width="2"/><circle cx="551.9" cy="568.9" r="2.3" fill="#FDB863" fill-opacity="0.6"/><circle cx="548.7" cy="632.5" r="2.3" fill="#FDB863" fill-opacity="0.6"/></g>
<g clip-path="url(#clipD)"><line x1="565.45" x2="565.45" y1="589.2" y2="592.5" stroke="#6e6e6e" stroke-width="1.3"/><line x1="565.45" x2="565.45" y1="598.1" y2="601.4" stroke="#6e6e6e" stroke-width="1.3"/><rect x="558.9" y="592.5" width="13.1" height="5.6" fill="#E66101" stroke="#4a4a4a" stroke-width="1.1"/><line x1="558.9" x2="572" y1="595.2" y2="595.2" stroke="#333" stroke-width="2"/><circle cx="570.1" cy="588.9" r="2.3" fill="#E66101" fill-opacity="0.6"/><circle cx="570.1" cy="601.4" r="2.3" fill="#E66101" fill-opacity="0.6"/></g>
<g clip-path="url(#clipD)"><line x1="607.4" x2="607.4" y1="449.7" y2="556.2" stroke="#6e6e6e" stroke-width="1.3"/><line x1="607.4" x2="607.4" y1="678.6" y2="721.5" stroke="#6e6e6e" stroke-width="1.3"/><rect x="600.7" y="556.2" width="13.4" height="122.4" fill="#1B7837" stroke="#4a4a4a" stroke-width="1.1"/><line x1="600.7" x2="614.1" y1="657.6" y2="657.6" stroke="#333" stroke-width="2"/><circle cx="603.5" cy="449.7" r="2.3" fill="#1B7837" fill-opacity="0.6"/><circle cx="603.2" cy="467.9" r="2.3" fill="#1B7837" fill-opacity="0.6"/><circle cx="604.9" cy="683.2" r="2.3" fill="#1B7837" fill-opacity="0.6"/><circle cx="603.8" cy="721.3" r="2.3" fill="#1B7837" fill-opacity="0.6"/></g>
<g clip-path="url(#clipD)"><line x1="622.8" x2="622.8" y1="600.3" y2="627.5" stroke="#6e6e6e" stroke-width="1.3"/><line x1="622.8" x2="622.8" y1="642.6" y2="662.1" stroke="#6e6e6e" stroke-width="1.3"/><rect x="616.5" y="627.5" width="12.6" height="15.1" fill="#80CDC1" stroke="#4a4a4a" stroke-width="1.1"/><line x1="616.5" x2="629.1" y1="635.5" y2="635.5" stroke="#333" stroke-width="2"/><circle cx="622.1" cy="599.9" r="2.3" fill="#80CDC1" fill-opacity="0.6"/><circle cx="624" cy="603.7" r="2.3" fill="#80CDC1" fill-opacity="0.6"/><circle cx="622.1" cy="623.3" r="2.3" fill="#80CDC1" fill-opacity="0.6"/><circle cx="619.3" cy="643.6" r="2.3" fill="#80CDC1" fill-opacity="0.6"/><circle cx="619.7" cy="650.1" r="2.3" fill="#80CDC1" fill-opacity="0.6"/><circle cx="622.1" cy="662.1" r="2.3" fill="#80CDC1" fill-opacity="0.6"/></g>
<g clip-path="url(#clipD)"><line x1="638.5" x2="638.5" y1="564" y2="586.3" stroke="#6e6e6e" stroke-width="1.3"/><rect x="632" y="586.3" width="13" height="23.4" fill="#FDB863" stroke="#4a4a4a" stroke-width="1.1"/><line x1="632" x2="645" y1="608.7" y2="608.7" stroke="#333" stroke-width="2"/><circle cx="639.9" cy="563.8" r="2.3" fill="#FDB863" fill-opacity="0.6"/><circle cx="638.4" cy="611.2" r="2.3" fill="#FDB863" fill-opacity="0.6"/></g>
<g clip-path="url(#clipD)"><line x1="653.9" x2="653.9" y1="590.9" y2="603.7" stroke="#6e6e6e" stroke-width="1.3"/><line x1="653.9" x2="653.9" y1="628.4" y2="641.1" stroke="#6e6e6e" stroke-width="1.3"/><rect x="647.4" y="603.7" width="13" height="24.7" fill="#E66101" stroke="#4a4a4a" stroke-width="1.1"/><line x1="647.4" x2="660.4" y1="615.8" y2="615.8" stroke="#333" stroke-width="2"/><circle cx="655.8" cy="590.9" r="2.3" fill="#E66101" fill-opacity="0.6"/><circle cx="655.3" cy="641.1" r="2.3" fill="#E66101" fill-opacity="0.6"/></g>
<g clip-path="url(#clipD)"><circle cx="517.9" cy="656.9" r="2.3" fill="#1B7837" fill-opacity="0.6"/><circle cx="606" cy="657.6" r="2.3" fill="#1B7837" fill-opacity="0.6"/></g>
<g clip-path="url(#clipD)"><circle cx="533.6" cy="650.1" r="2.3" fill="#80CDC1" fill-opacity="0.6"/><circle cx="621.6" cy="635.5" r="2.3" fill="#80CDC1" fill-opacity="0.6"/></g>
<g clip-path="url(#clipD)"><circle cx="552.7" cy="588.4" r="2.3" fill="#FDB863" fill-opacity="0.6"/></g>
<text transform="translate(446.5,432.7) scale(0.93,1)" font-size="23.8" text-anchor="middle" font-weight="normal" fill="#000">A</text>
<text transform="translate(590.4,432.7) scale(0.93,1)" font-size="23.8" text-anchor="middle" font-weight="normal" fill="#000">B</text>
<path d="M503.4 449 L503.4 439.9 Q503.4 438.4 504.9 438.4 L658.3 438.4 Q659.8 438.4 659.8 439.9 L660.4 449" fill="none" stroke="#858585" stroke-width="1.1"/>
<text x="392.8" y="726.7" font-size="14.8" text-anchor="end" font-weight="normal" fill="#1a1a1a">0</text>
<text x="392.8" y="684.19" font-size="14.8" text-anchor="end" font-weight="normal" fill="#1a1a1a">30</text>
<text x="392.8" y="641.68" font-size="14.8" text-anchor="end" font-weight="normal" fill="#1a1a1a">60</text>
<text x="392.8" y="599.17" font-size="14.8" text-anchor="end" font-weight="normal" fill="#1a1a1a">90</text>
<text x="392.8" y="556.66" font-size="14.8" text-anchor="end" font-weight="normal" fill="#1a1a1a">120</text>
<text x="392.8" y="514.15" font-size="14.8" text-anchor="end" font-weight="normal" fill="#1a1a1a">150</text>
<text x="453.8" y="738.5" font-size="14.8" text-anchor="middle" font-weight="normal" fill="#1a1a1a">SD</text>
<text x="542.4" y="738.5" font-size="14.8" text-anchor="middle" font-weight="normal" fill="#1a1a1a">LD</text>
<text x="630.6" y="738.5" font-size="14.8" text-anchor="middle" font-weight="normal" fill="#1a1a1a">WD</text>
<text transform="translate(357.9,594.3) rotate(-90)" font-size="19.08" text-anchor="middle" font-weight="bold" fill="#000">Relative root growth (%)</text>
<text x="542.4" y="756.8" font-size="16.2" text-anchor="middle" font-weight="bold" fill="#000">Organic Fraction</text>
<text x="345.6" y="416.5" font-size="21" text-anchor="start" font-weight="normal" fill="#000">(D)</text>
<line x1="46.95" x2="46.95" y1="780.2" y2="795.5" stroke="#6e6e6e" stroke-width="1.3"/>
<rect x="39.7" y="783.6" width="14.5" height="9.5" fill="#1B7837" stroke="#4a4a4a" stroke-width="1.3"/>
<line x1="39.7" x2="54.2" y1="788.3" y2="788.3" stroke="#333" stroke-width="1.6"/>
<text x="67.6" y="794.5" font-size="18.4" text-anchor="start" font-weight="normal" fill="#000">Manure</text>
<line x1="161.25" x2="161.25" y1="780.2" y2="795.5" stroke="#6e6e6e" stroke-width="1.3"/>
<rect x="154" y="783.6" width="14.5" height="9.5" fill="#80CDC1" stroke="#4a4a4a" stroke-width="1.3"/>
<line x1="154" x2="168.5" y1="788.3" y2="788.3" stroke="#333" stroke-width="1.6"/>
<text x="182.2" y="794.5" font-size="18.4" text-anchor="start" font-weight="normal" fill="#000">Food waste</text>
<line x1="306.35" x2="306.35" y1="780.2" y2="795.5" stroke="#6e6e6e" stroke-width="1.3"/>
<rect x="299.1" y="783.6" width="14.5" height="9.5" fill="#FDB863" stroke="#4a4a4a" stroke-width="1.3"/>
<line x1="299.1" x2="313.6" y1="788.3" y2="788.3" stroke="#333" stroke-width="1.6"/>
<text x="326.5" y="794.5" font-size="18.4" text-anchor="start" font-weight="normal" fill="#000">Sewage sludge</text>
<line x1="481.05" x2="481.05" y1="780.2" y2="795.5" stroke="#6e6e6e" stroke-width="1.3"/>
<rect x="473.8" y="783.6" width="14.5" height="9.5" fill="#E66101" stroke="#4a4a4a" stroke-width="1.3"/>
<line x1="473.8" x2="488.3" y1="788.3" y2="788.3" stroke="#333" stroke-width="1.6"/>
<text x="500.4" y="794.5" font-size="18.4" text-anchor="start" font-weight="normal" fill="#000">Agricultural biomass</text>
</svg>
</body></html>
